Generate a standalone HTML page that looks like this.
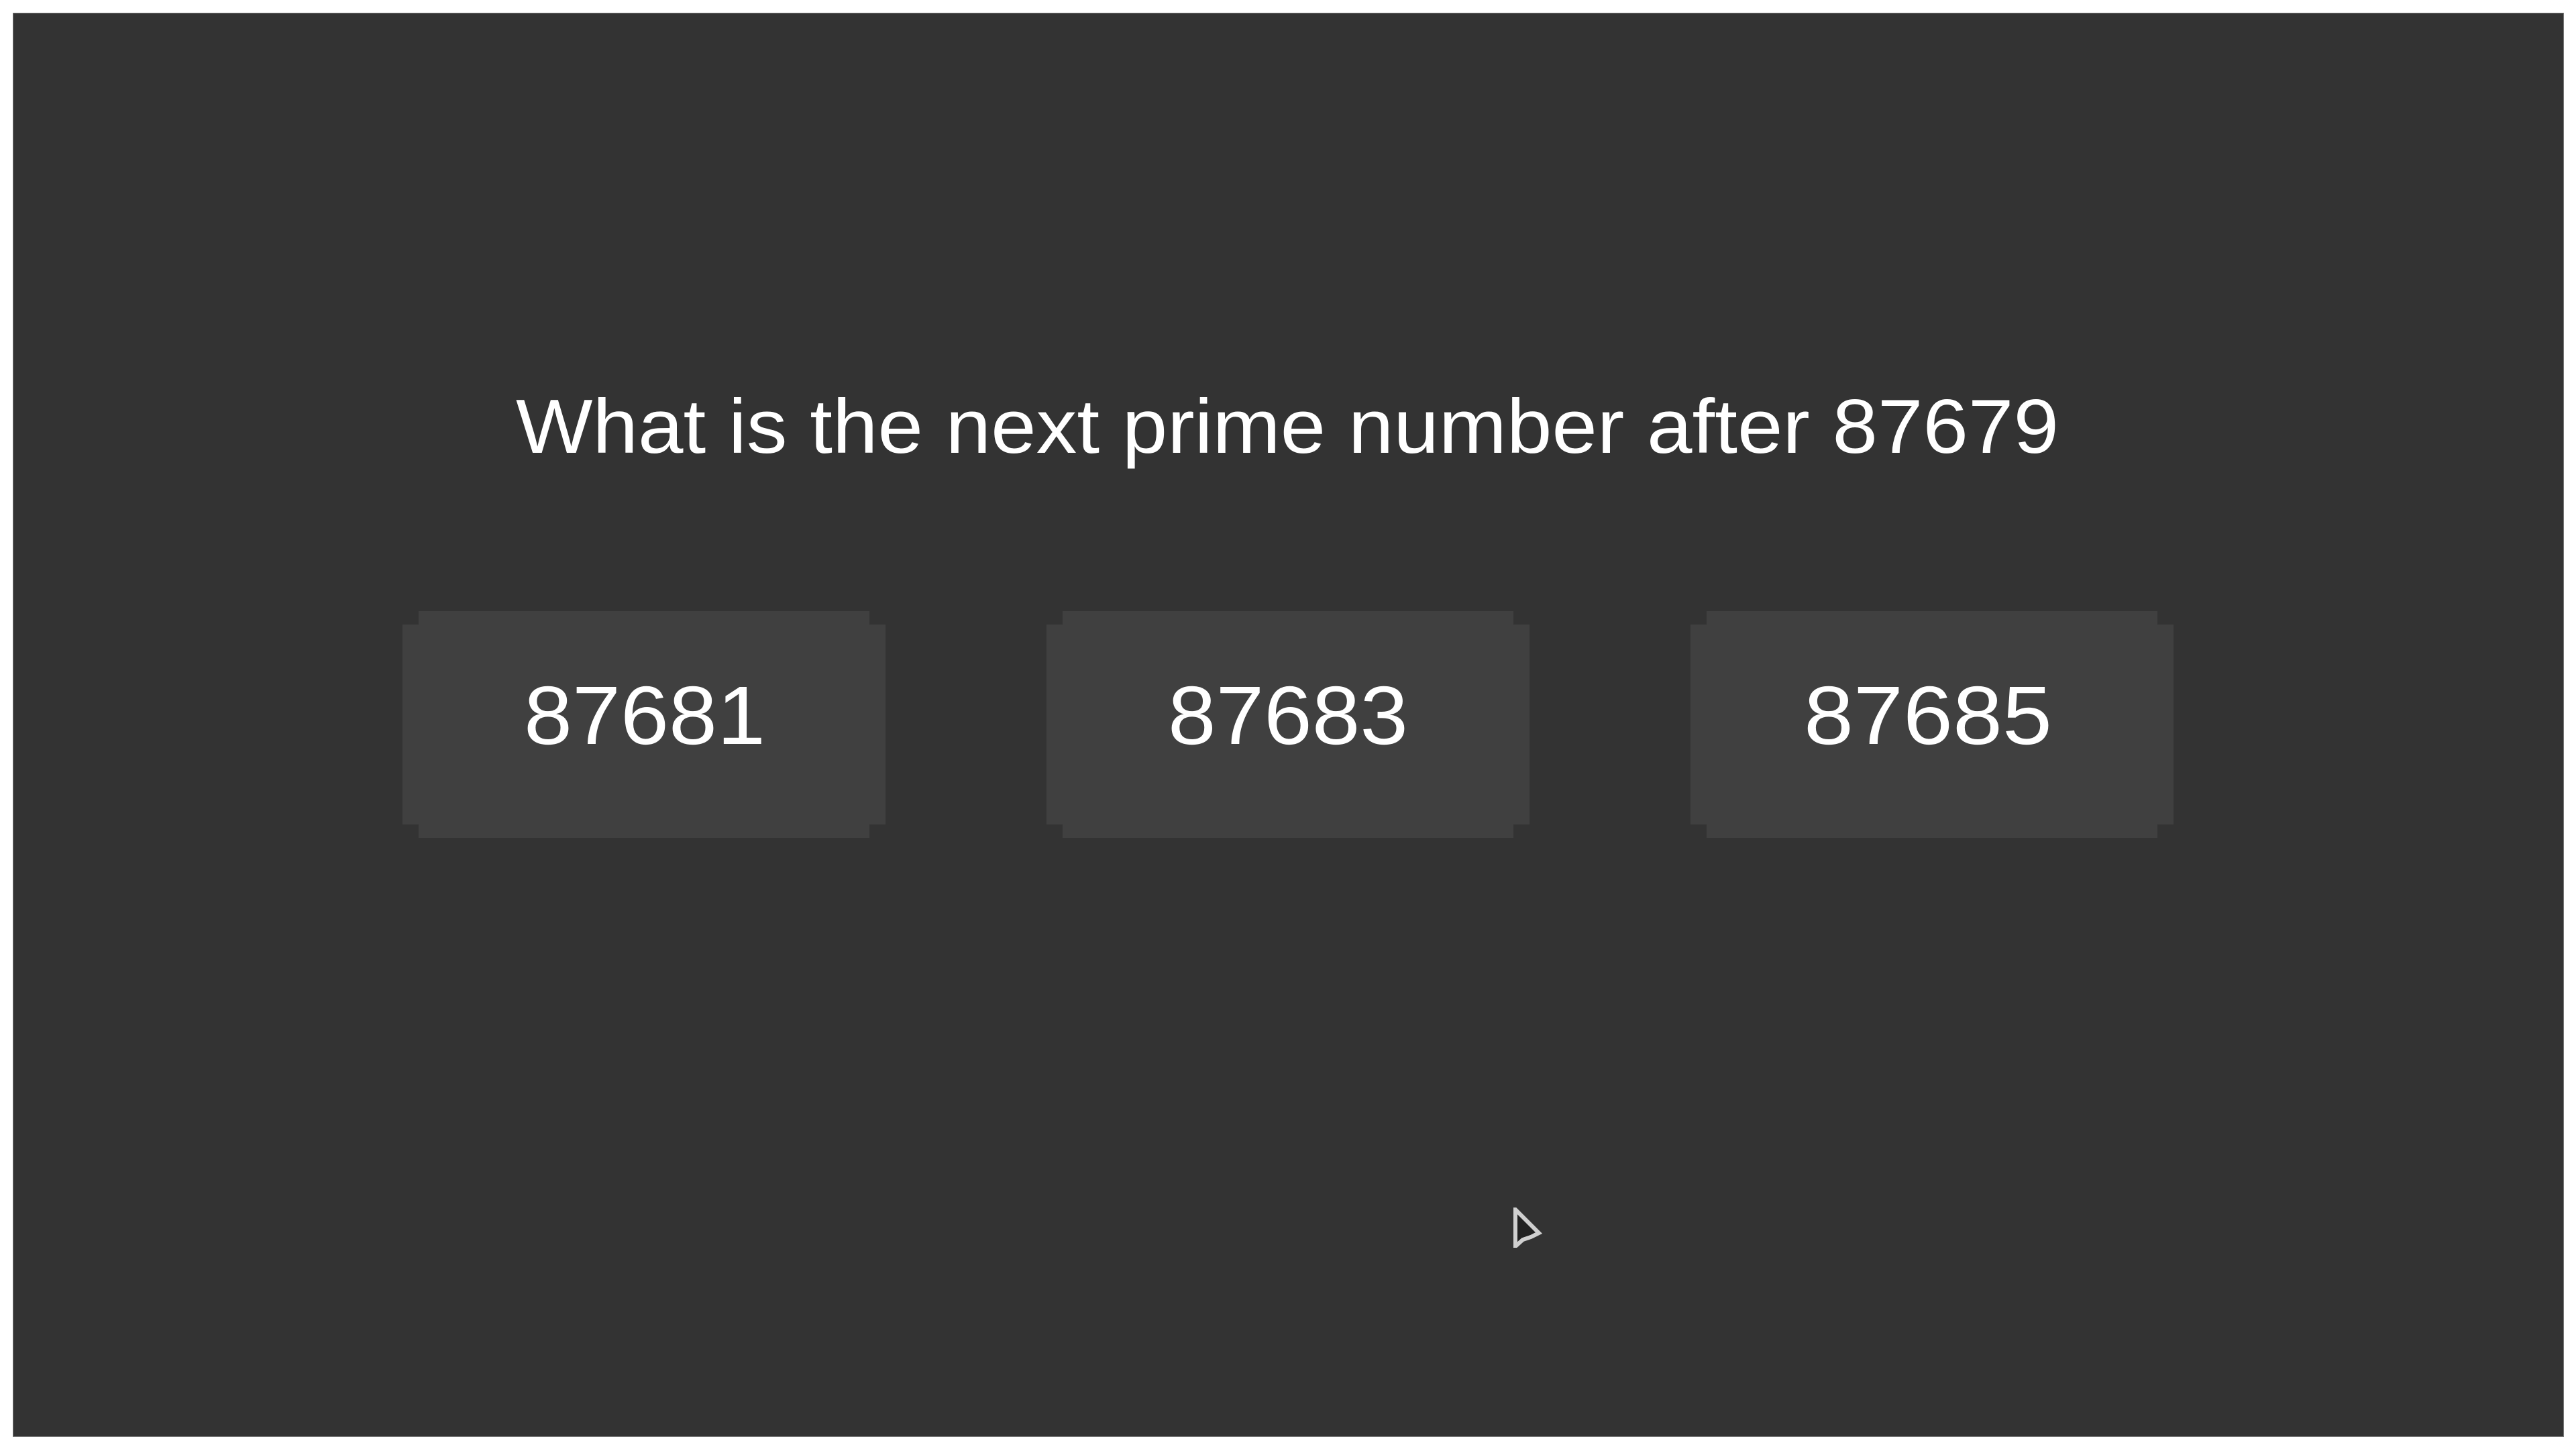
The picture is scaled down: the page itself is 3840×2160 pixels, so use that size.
<!DOCTYPE html>
<html><head><meta charset="utf-8">
<style>
html,body{margin:0;padding:0;background:#fff;}
body{width:3840px;height:2160px;position:relative;overflow:hidden;font-family:"Liberation Sans",sans-serif;}
#screen{position:absolute;left:20px;top:20px;width:3801px;height:2121px;background:#333333;box-shadow:0 0 0 1px #777;}
.t{position:absolute;color:#fff;white-space:nowrap;transform-origin:0 0;line-height:1;font-weight:normal;}
.btn{position:absolute;width:720px;height:338px;top:911px;cursor:pointer;}
.btn .a{position:absolute;left:24px;right:24px;top:0;bottom:0;background:#404040;}
.btn .b{position:absolute;left:0;right:0;top:20px;bottom:20px;background:#404040;}
</style></head><body>
<div id="screen"></div>
<div class="t" id="title" data-fit="769,601,2300,82">What is the next prime number after 87679</div>
<div class="btn" style="left:600px"><div class="a"></div><div class="b"></div></div>
<div class="btn" style="left:1560px"><div class="a"></div><div class="b"></div></div>
<div class="btn" style="left:2520px"><div class="a"></div><div class="b"></div></div>
<div class="t" data-fit="781,1029,360,89">87681</div>
<div class="t" data-fit="1741,1029,358,89">87683</div>
<div class="t" data-fit="2689,1029,370,89">87685</div>
<svg style="position:absolute;left:2256px;top:1800px" width="44" height="60" viewBox="0 0 44 60">
<polygon points="3,3 38,38 26,44 14,48 3,58" fill="#222" stroke="#d0d0d0" stroke-width="6" stroke-linejoin="miter"/>
</svg>
<script>
document.querySelectorAll('[data-fit]').forEach(function(el){
  var p=el.getAttribute('data-fit').split(',').map(Number);
  var capH=p[3], fs=capH/0.72;
  el.style.fontSize=fs+'px';
  var w=el.getBoundingClientRect().width;
  var sx=p[2]/w;
  el.style.left=p[0]+'px';
  el.style.top=(p[1]-fs*0.185)+'px';
  el.style.transform='scaleX('+sx+')';
});
</script>
</body></html>
